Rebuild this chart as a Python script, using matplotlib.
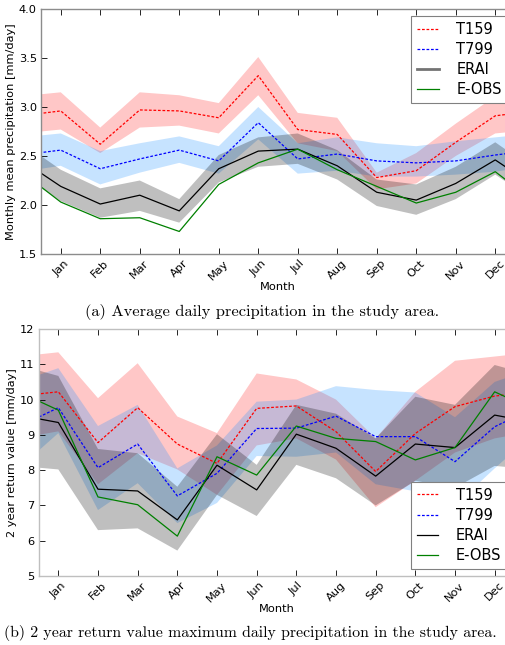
import numpy as np
import matplotlib
matplotlib.use("Agg")
import matplotlib.pyplot as plt

months = ["Jan", "Feb", "Mar", "Apr", "May", "Jun",
          "Jul", "Aug", "Sep", "Oct", "Nov", "Dec"]

# (a) monthly mean precipitation [mm/day]
t159_mean = [2.96, 2.62, 2.97, 2.96, 2.89, 3.32, 2.77, 2.72, 2.28, 2.35, 2.64, 2.91]
t159_hi = [3.15, 2.79, 3.15, 3.12, 3.04, 3.51, 2.94, 2.89, 2.33, 2.53, 2.83, 3.11]
t159_lo = [2.77, 2.53, 2.79, 2.81, 2.73, 3.12, 2.63, 2.55, 2.16, 2.22, 2.50, 2.73]
t799_mean = [2.56, 2.37, 2.47, 2.56, 2.45, 2.84, 2.47, 2.52, 2.45, 2.43, 2.45, 2.51]
t799_hi = [2.73, 2.55, 2.63, 2.70, 2.60, 3.00, 2.63, 2.69, 2.63, 2.60, 2.65, 2.69]
t799_lo = [2.40, 2.21, 2.33, 2.43, 2.32, 2.67, 2.32, 2.35, 2.29, 2.29, 2.31, 2.34]
erai_mean = [2.19, 2.01, 2.10, 1.94, 2.37, 2.55, 2.57, 2.40, 2.13, 2.05, 2.22, 2.46]
erai_hi = [2.36, 2.17, 2.25, 2.06, 2.51, 2.69, 2.73, 2.56, 2.26, 2.21, 2.39, 2.64]
erai_lo = [2.04, 1.87, 1.94, 1.82, 2.23, 2.39, 2.42, 2.26, 1.99, 1.90, 2.06, 2.31]
eobs_mean = [2.03, 1.86, 1.87, 1.73, 2.21, 2.43, 2.57, 2.36, 2.19, 2.02, 2.13, 2.34]

# (b) 2 year return value [mm/day]
t159_rv = [10.22, 8.78, 9.77, 8.74, 8.19, 9.75, 9.82, 9.09, 7.96, 9.04, 9.80, 10.10]
t159_rv_hi = [11.34, 10.04, 11.03, 9.52, 9.05, 10.74, 10.57, 10.0, 8.9, 10.22, 11.10, 11.22]
t159_rv_lo = [9.1, 7.6, 8.48, 8.02, 7.3, 8.7, 8.9, 8.3, 6.95, 7.7, 8.5, 8.9]
t799_rv = [9.77, 8.07, 8.74, 7.27, 7.91, 9.18, 9.19, 9.53, 8.95, 8.95, 8.24, 9.23]
t799_rv_hi = [10.89, 9.25, 9.85, 8.05, 8.7, 9.94, 10.0, 10.38, 10.27, 10.2, 9.5, 10.5]
t799_rv_lo = [9.05, 6.87, 7.63, 6.5, 7.07, 8.4, 8.38, 8.5, 7.6, 7.4, 7.0, 8.05]
erai_rv = [9.35, 7.46, 7.41, 6.59, 8.14, 7.44, 9.02, 8.62, 7.83, 8.74, 8.64, 9.56]
erai_rv_hi = [10.67, 8.6, 8.48, 7.53, 9.02, 8.15, 9.85, 9.6, 8.9, 10.08, 9.85, 10.98]
erai_rv_lo = [8.02, 6.30, 6.35, 5.72, 7.3, 6.70, 8.15, 7.77, 7.0, 7.7, 7.5, 8.12]
eobs_rv = [9.7, 7.24, 7.02, 6.13, 8.38, 7.86, 9.25, 8.90, 8.81, 8.29, 8.64, 10.22]


def wrap(v):
    # cyclic: Dec before Jan, Jan after Dec
    return np.array([v[-1]] + list(v) + [v[0]])


x = np.arange(0, 14)


def panel(ax, series, ylim, yticks, yfmt, ylabel, legloc, spine_col):
    (r, rh, rl), (b, bh, bl), (k, kh, kl), g = series
    ax.fill_between(x, wrap(rl), wrap(rh), color="red", alpha=0.22, lw=0)
    ax.fill_between(x, wrap(bl), wrap(bh), color="dodgerblue", alpha=0.25, lw=0)
    ax.fill_between(x, wrap(kl), wrap(kh), color="black", alpha=0.25, lw=0)
    ax.plot(x, wrap(r), color="red", lw=0.9, dashes=(2.2, 1.4), label="T159")
    ax.plot(x, wrap(b), color="blue", lw=0.9, dashes=(2.2, 1.4), label="T799")
    ax.plot(x, wrap(k), color="black", lw=0.9, label="ERAI")
    ax.plot(x, wrap(g), color="green", lw=0.9, label="E-OBS")
    ax.set_xlim(0.5, 12.5)
    ax.set_ylim(*ylim)
    ax.set_yticks(yticks)
    ax.set_yticklabels([yfmt % t for t in yticks])
    ax.set_xticks(np.arange(1, 13))
    ax.set_xticklabels(months, rotation=45)
    ax.tick_params(direction="in", top=True, right=True, length=4, width=0.6,
                   labelsize=8.2, pad=3)
    ax.set_xlabel("Month", fontsize=8.2, labelpad=0)
    ax.set_ylabel(ylabel, fontsize=8.2, labelpad=2)
    for s in ax.spines.values():
        s.set_color(spine_col)
        s.set_linewidth(1.0)
    leg = ax.legend(loc=legloc, fontsize=10.5, handlelength=1.5,
                    labelspacing=0.35, fancybox=False, framealpha=1,
                    borderaxespad=0.5, handletextpad=1.2)
    leg.get_frame().set_edgecolor("0.5")
    leg.get_frame().set_linewidth(0.8)
    return leg


fig = plt.figure(figsize=(5.06, 6.45), dpi=100)

ax1 = fig.add_axes([41 / 506, 1 - 254 / 645, 474 / 506, 245 / 645])
leg1 = panel(ax1,
             [(t159_mean, t159_hi, t159_lo), (t799_mean, t799_hi, t799_lo),
              (erai_mean, erai_hi, erai_lo), eobs_mean],
             (1.5, 4.0), [1.5, 2.0, 2.5, 3.0, 3.5, 4.0], "%.1f",
             "Monthly mean precipitation [mm/day]", "upper right", "0.55")
leg1.get_lines()[2].set_color("0.45")
leg1.get_lines()[2].set_linewidth(2)

ax2 = fig.add_axes([38.5 / 506, 1 - 576 / 645, 476 / 506, 247 / 645])
panel(ax2,
      [(t159_rv, t159_rv_hi, t159_rv_lo), (t799_rv, t799_rv_hi, t799_rv_lo),
       (erai_rv, erai_rv_hi, erai_rv_lo), eobs_rv],
      (5, 12), list(range(5, 13)), "%d",
      "2 year return value [mm/day]", "lower right", "0.75")

fig.text(262 / 506, 1 - 312 / 645, "(a) Average daily precipitation in the study area.",
         ha="center", va="center", fontsize=11.8, family="cmr10")
fig.text(4 / 506, 1 - 633 / 645,
         "(b) 2 year return value maximum daily precipitation in the study area.",
         ha="left", va="center", fontsize=11.4, family="cmr10")

fig.savefig("out.png", dpi=100)
